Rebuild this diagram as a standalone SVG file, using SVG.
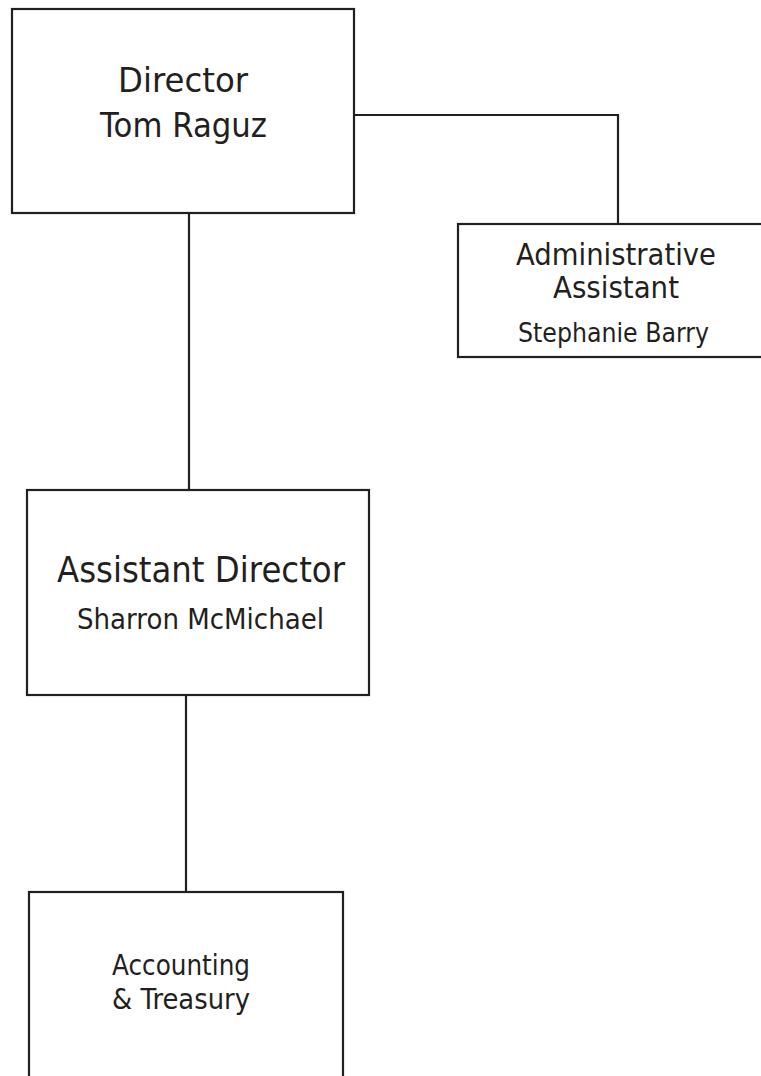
<svg xmlns="http://www.w3.org/2000/svg" width="761" height="1076" viewBox="0 0 761 1076">
<style>
.box{fill:#fff;stroke:#231f20;stroke-width:2.2}
.ln{fill:none;stroke:#231f20;stroke-width:2.2}
text{font-family:"DejaVu Sans","Liberation Sans",sans-serif;fill:#231f20;text-anchor:middle}
</style>
<rect width="761" height="1076" fill="#fff"/>
<g id="connectors">
<polyline class="ln" points="354,115 618,115 618,224"/>
<line class="ln" x1="189" y1="213" x2="189" y2="490"/>
<line class="ln" x1="186" y1="695" x2="186" y2="892"/>
</g>
<g id="director">
<rect class="box" x="12" y="9" width="342" height="204"/>
<text x="183" y="92" font-size="33" textLength="130" lengthAdjust="spacingAndGlyphs">Director</text>
<text x="183.5" y="137" font-size="33" textLength="167" lengthAdjust="spacingAndGlyphs">Tom Raguz</text>
</g>
<g id="admin-assistant">
<rect class="box" x="458" y="224" width="320" height="133"/>
<text x="616" y="265" font-size="30" textLength="200" lengthAdjust="spacingAndGlyphs">Administrative</text>
<text x="616" y="298" font-size="30" textLength="126" lengthAdjust="spacingAndGlyphs">Assistant</text>
<text x="613.5" y="342" font-size="26" textLength="191" lengthAdjust="spacingAndGlyphs">Stephanie Barry</text>
</g>
<g id="assistant-director">
<rect class="box" x="27" y="490" width="342" height="205"/>
<text x="201" y="582" font-size="35" textLength="288" lengthAdjust="spacingAndGlyphs">Assistant Director</text>
<text x="200.5" y="629" font-size="28" textLength="247" lengthAdjust="spacingAndGlyphs">Sharron McMichael</text>
</g>
<g id="accounting">
<rect class="box" x="29" y="892" width="314" height="200"/>
<text x="181" y="975" font-size="28" textLength="138" lengthAdjust="spacingAndGlyphs">Accounting</text>
<text x="181" y="1009" font-size="28" textLength="138" lengthAdjust="spacingAndGlyphs">&amp; Treasury</text>
</g>
</svg>
